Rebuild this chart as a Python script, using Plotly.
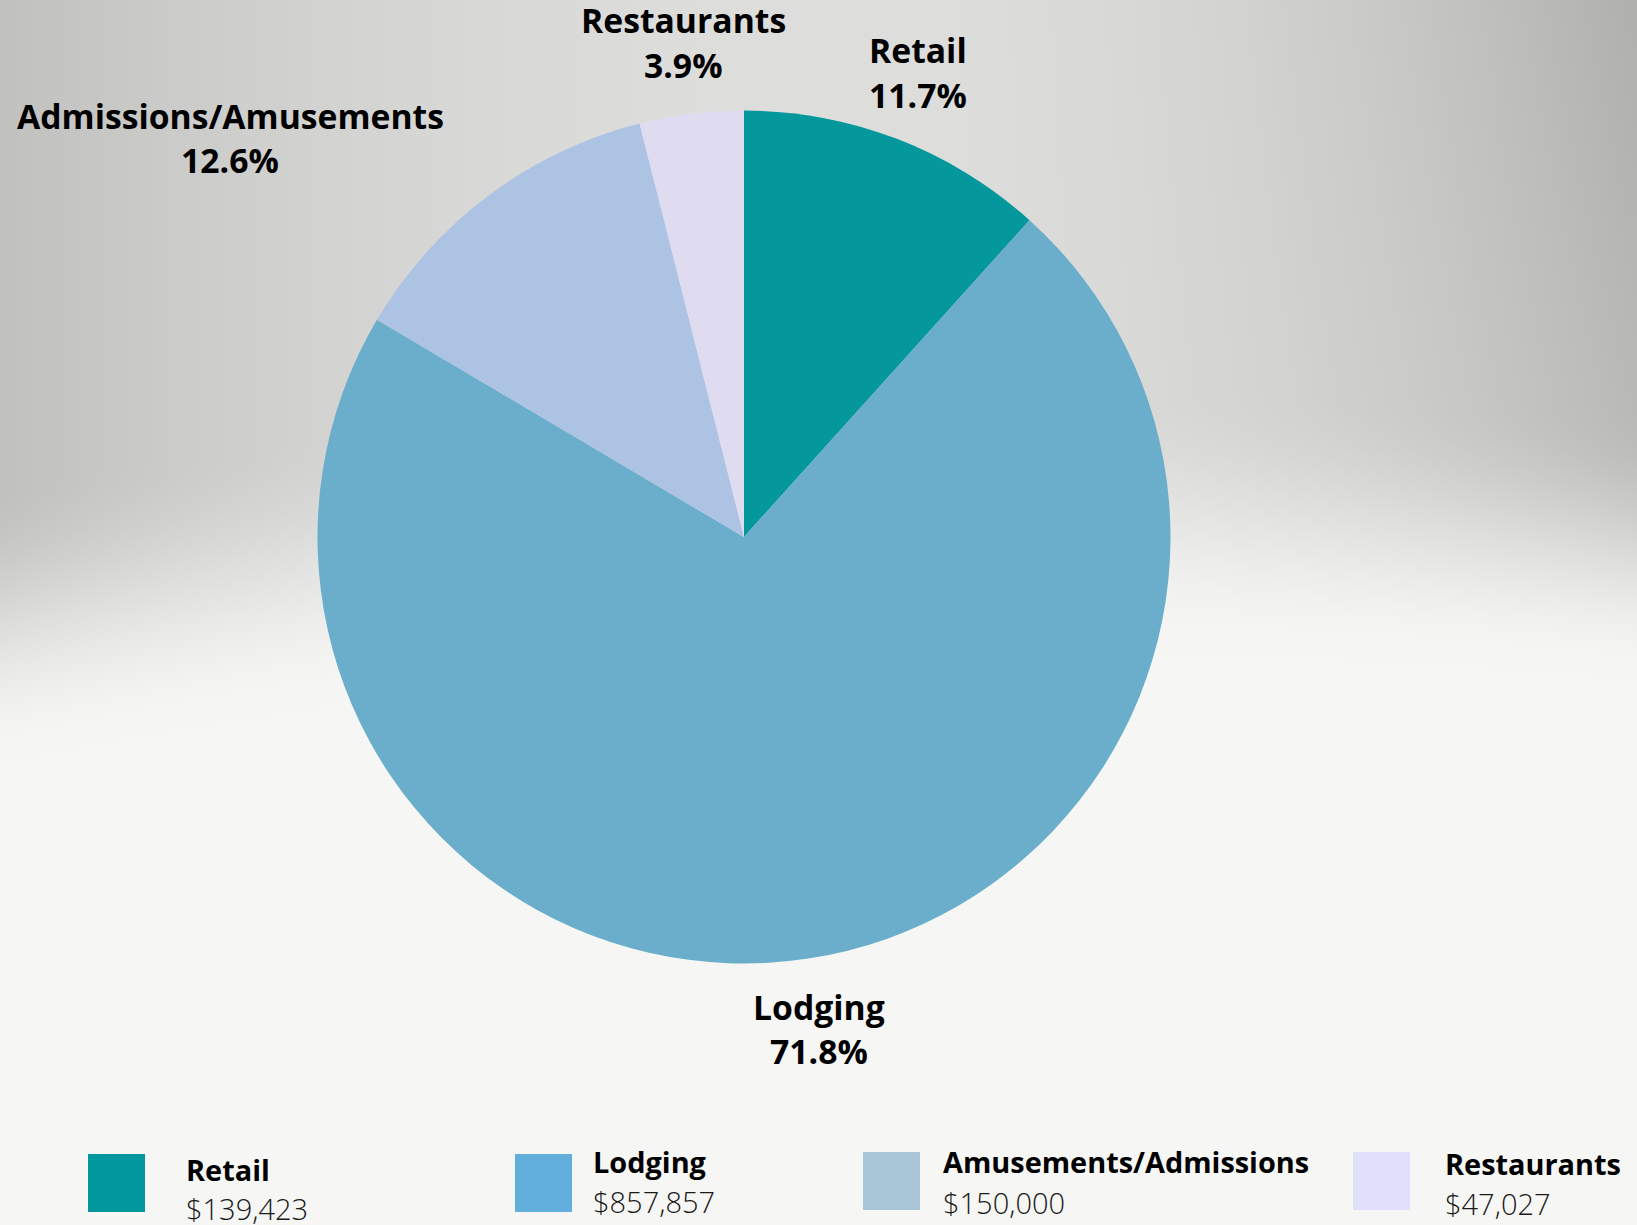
import base64
import struct
import zlib

import numpy as np
import plotly.graph_objects as go

# ---------------- data ----------------
slice_labels = ["Retail", "Lodging", "Admissions/Amusements", "Restaurants"]
slice_values = [139423, 857857, 150000, 47027]
slice_colors = ["#04989c", "#6aaecb", "#adc3e4", "#dfdbf1"]

legend_names = ["Retail", "Lodging", "Amusements/Admissions", "Restaurants"]
legend_values = ["$139,423", "$857,857", "$150,000", "$47,027"]
legend_colors = ["#03989e", "#62aedc", "#a9c6d8", "#e0e0fb"]

W, H = 1637, 1225
FONT = "Open Sans"


# ---------------- background gradient image ----------------
def make_background(w, h):
    xs = np.linspace(0, W, w)[None, :]
    ys = np.linspace(0, H, h)[:, None]
    # grey tone: lighter band near the middle, darker towards the sides
    left = xs < 850
    u = np.where(left, (xs - 850) / 850.0, (xs - 850) / 787.0)
    g = np.where(left, 222 - 29 * u ** 2, 222 - 36 * u ** 2)
    g = g - np.where(left, 0, 10 * u ** 2 * np.clip(1 - ys / 420.0, 0, 1))
    g = g + 0 * ys
    # elliptical light area at the bottom
    cx, cy, rx, ry = 1100.0, 2000.0, 3100.0, 1490.0
    r = np.sqrt(((xs - cx) / rx) ** 2 + ((ys - cy) / ry) ** 2)
    t = np.clip((r - 0.905) / (1.08 - 0.905), 0, 1)
    t = t * t * (3 - 2 * t)
    light = np.array([246.0, 246.0, 244.0])
    grey = np.stack([g, g, g - 2], axis=-1)
    img = light[None, None, :] * (1 - t[..., None]) + grey * t[..., None]
    return np.clip(img, 0, 255).astype(np.uint8)


def png_uri(arr):
    hh, ww, _ = arr.shape
    raw = b"".join(b"\x00" + arr[i].tobytes() for i in range(hh))

    def chunk(tag, data):
        return (struct.pack(">I", len(data)) + tag + data
                + struct.pack(">I", zlib.crc32(tag + data) & 0xFFFFFFFF))

    png = (b"\x89PNG\r\n\x1a\n"
           + chunk(b"IHDR", struct.pack(">IIBBBBB", ww, hh, 8, 2, 0, 0, 0))
           + chunk(b"IDAT", zlib.compress(raw, 9))
           + chunk(b"IEND", b""))
    return "data:image/png;base64," + base64.b64encode(png).decode()


bg_uri = png_uri(make_background(410, 307))


def px(x):
    return x / W


def py(y):
    return 1 - y / H


# ---------------- pie ----------------
cx, cy, rad = 744.0, 537.0, 426.5
fig = go.Figure(
    go.Pie(
        labels=slice_labels,
        values=slice_values,
        marker=dict(colors=slice_colors, line=dict(width=0)),
        sort=False,
        direction="clockwise",
        rotation=0,
        textinfo="none",
        hoverinfo="label+value+percent",
        showlegend=False,
        domain=dict(x=[px(cx - rad), px(cx + rad)], y=[py(cy + rad), py(cy - rad)]),
    )
)

annotations = []


def add_text(text, x, baseline, size, weight, color="#000000", anchor="center"):
    annotations.append(dict(
        text=text, x=px(x), y=py(baseline - 0.388 * size),
        xref="paper", yref="paper", xanchor=anchor, yanchor="middle",
        showarrow=False,
        font=dict(family=FONT, size=size, color=color, weight=weight),
    ))


total = sum(slice_values)
pct = [f"{100 * v / total:.1f}%" for v in slice_values]

# pie labels: (centre x, baseline of name, baseline of percent)
label_pos = [(918, 63, 108), (819, 1020, 1064), (230, 129, 173), (683, 33, 78)]
for name, p, (lx, b1, b2) in zip(slice_labels, pct, label_pos):
    add_text(name, lx, b1, 33.7, 700)
    add_text(p, lx, b2, 33.7, 700)

# custom legend
swatches = [(88, 1154), (515, 1154), (863, 1152), (1353, 1152)]
text_pos = [(184, 1181, 1220), (591, 1173, 1213), (941, 1173, 1214), (1443, 1175, 1215)]
shapes = []
for name, val, col, (sx, sy), (tx, b1, b2) in zip(legend_names, legend_values,
                                                 legend_colors, swatches, text_pos):
    shapes.append(dict(type="rect", xref="paper", yref="paper",
                       x0=px(sx), x1=px(sx + 57), y0=py(sy + 58), y1=py(sy),
                       fillcolor=col, line=dict(width=0), layer="above"))
    add_text(name, tx, b1, 28.9, 700, anchor="left")
    add_text(val, tx, b2, 29, 300, color="#1a1a1a", anchor="left")

fig.update_layout(
    width=W, height=H,
    margin=dict(l=0, r=0, t=0, b=0),
    paper_bgcolor="#f6f6f4",
    plot_bgcolor="rgba(0,0,0,0)",
    font=dict(family=FONT),
    annotations=annotations,
    shapes=shapes,
    images=[dict(source=bg_uri, xref="paper", yref="paper", x=0, y=1,
                 sizex=1, sizey=1, sizing="stretch", xanchor="left",
                 yanchor="top", layer="below")],
)

fig.write_html(
    "out.html",
    include_plotlyjs=True,
    config={"displayModeBar": False},
    post_script="document.body.style.margin='0';document.body.style.overflow='hidden';",
)
